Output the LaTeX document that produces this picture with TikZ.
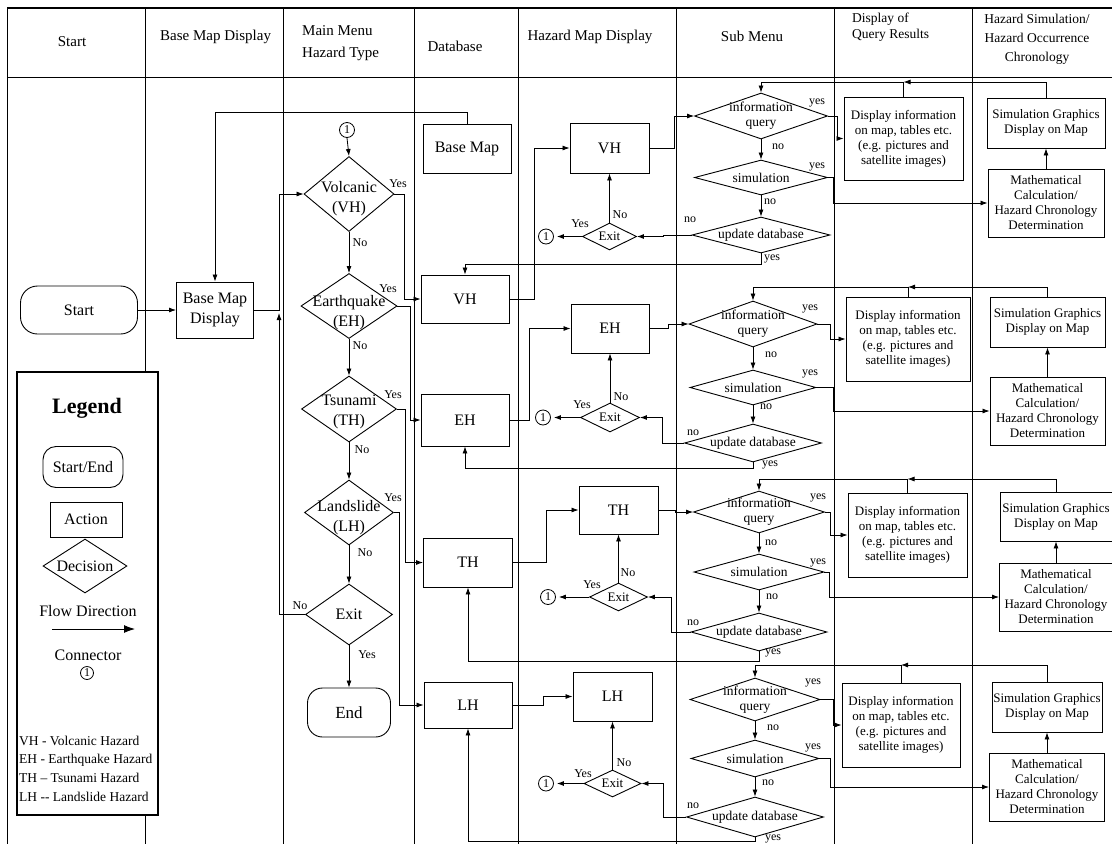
\documentclass[tikz,border=0pt]{standalone}
\usepackage{fontspec}
\setmainfont{Liberation Serif}
\usetikzlibrary{arrows.meta,shapes.geometric,calc}
\begin{document}
\begin{tikzpicture}[x=1pt,y=-1pt,
  arr/.style={line width=0.8pt,-{Latex[length=7pt,width=5pt]}},
  grid/.style={line width=0.8pt},
  box/.style={draw,line width=0.9pt,inner sep=1pt,align=center},
  dia/.style={draw,diamond,line width=0.9pt,inner sep=0pt},
  term/.style={draw,rounded corners=15pt,line width=0.9pt,inner sep=0pt},
  con/.style={draw,circle,line width=0.8pt,inner sep=0pt,minimum size=15pt,font=\fontsize{12}{12}\selectfont},
  lab/.style={inner sep=0pt,font=\fontsize{12}{12}\selectfont},
  f16/.style={font=\fontsize{16}{20}\selectfont},
  f15/.style={font=\fontsize{15}{22}\selectfont},
  f13/.style={font=\fontsize{13}{15}\selectfont},
  f135/.style={font=\fontsize{13.5}{15}\selectfont},
  hdrs/.style={font=\fontsize{13.5}{19}\selectfont}
]
\useasboundingbox (0,0) rectangle (1112,844);
\fill[white] (0,0) rectangle (1112,844);

% ---- swimlane grid ----
\draw[line width=1.6pt] (7,8) -- (1112,8);
\draw[grid] (7,77) -- (1112,77);
\draw[grid] (7,8) -- (7,844);
\foreach \x in {145,283,414,518,676,834,972} \draw[grid] (\x,8) -- (\x,844);

% ---- header ----
\node[f15] (h1) at (72,42) {Start};
\node[f15,anchor=west,inner sep=0pt] (h2) at (160,37) {Base Map Display};
\node[f15,anchor=west,align=left,inner sep=0pt] (h3) at (302,43) {Main Menu\\Hazard Type};
\node[f15] (h4) at (455,46) {Database};
\node[f15] (h5) at (590,37) {Hazard Map Display};
\node[f15] (h6) at (752,36) {Sub Menu};
\node[font=\fontsize{13.5}{16}\selectfont,anchor=west,align=left,inner sep=0pt] (h7) at (852,27) {Display of\\Query Results};
\node[hdrs,align=center,inner sep=0pt] (h8) at (1037,39) {Hazard Simulation/\\Hazard Occurrence\\Chronology};

% ---- start / base map display ----
\node[term,minimum width=117pt,minimum height=48pt,f16,rounded corners=17pt] (start) at (79,310) {Start};
\node[box,minimum width=77pt,minimum height=56pt,f16] (bmd) at (215,310) {Base Map\\Display};

% ---- main menu ----
\node[con] (c0) at (347,130) {1};
\node[dia,minimum width=90pt,minimum height=75pt,label={[f16,align=center,yshift=-5pt]center:{Volcanic\\(VH)}}] (volc) at (349,194) {};
\node[dia,minimum width=96pt,minimum height=65pt,label={[f16,align=center,yshift=-7pt]center:{Earthquake\\(EH)}}] (earth) at (349,306) {};
\node[dia,minimum width=95pt,minimum height=66pt,label={[f16,align=center,yshift=-3pt]center:{Tsunami\\(TH)}}] (tsun) at (349,409) {};
\node[dia,minimum width=89pt,minimum height=65pt,label={[f16,align=center,yshift=-5pt]center:{Landslide\\(LH)}}] (land) at (349,512.5) {};
\node[dia,minimum width=87pt,minimum height=61pt,label={[f16]center:{Exit}}] (exitm) at (349,614.5) {};
\node[term,minimum width=83pt,minimum height=49pt,font=\fontsize{17}{20}\selectfont] (endn) at (349,712.5) {End};

% ---- database ----
\node[box,minimum width=88pt,minimum height=49pt,f16] (bm) at (467,148.5) {Base Map};
\node[box,minimum width=88pt,minimum height=48pt,f16] (dvh) at (465,299) {VH};
\node[box,minimum width=88pt,minimum height=52pt,f16] (deh) at (465,420) {EH};
\node[box,minimum width=89pt,minimum height=49pt,f16] (dth) at (468,562.5) {TH};
\node[box,minimum width=88pt,minimum height=46pt,f16] (dlh) at (468,705) {LH};

% ---- hazard map display ----
\node[box,minimum width=79pt,minimum height=50pt,f16] (mvh) at (609.5,148) {VH};
\node[box,minimum width=78pt,minimum height=49pt,f16] (meh) at (610,328.5) {EH};
\node[box,minimum width=79pt,minimum height=48pt,f16] (mth) at (618.5,510) {TH};
\node[box,minimum width=79pt,minimum height=49pt,f16] (mlh) at (612.5,696.5) {LH};

\node[dia,minimum width=54pt,minimum height=27pt,label={[f13]center:{Exit}}] (xvh) at (609.5,236.5) {};
\node[dia,minimum width=59pt,minimum height=29pt,label={[f13]center:{Exit}}] (xeh) at (610,417.5) {};
\node[dia,minimum width=58pt,minimum height=28pt,label={[f13]center:{Exit}}] (xth) at (618.5,597) {};
\node[dia,minimum width=57pt,minimum height=27pt,label={[f13]center:{Exit}}] (xlh) at (612.5,783.5) {};

\node[con] (cvh) at (546,236.5) {1};
\node[con] (ceh) at (543,417.5) {1};
\node[con] (cth) at (548,597) {1};
\node[con] (clh) at (546,783.5) {1};

% ---- sub menu ----
\node[dia,minimum width=133pt,minimum height=46pt,label={[f135,align=center]center:{information\\query}}] (iqv) at (761,116) {};
\node[dia,minimum width=133pt,minimum height=35pt,label={[f135]center:{simulation}}] (simv) at (761,177.5) {};
\node[dia,minimum width=138pt,minimum height=36pt,label={[f135]center:{update database}}] (udv) at (761,235) {};

\node[dia,minimum width=128pt,minimum height=46pt,label={[f135,align=center]center:{information\\query}}] (iqe) at (753,324) {};
\node[dia,minimum width=126pt,minimum height=35pt,label={[f135]center:{simulation}}] (sime) at (753,387.5) {};
\node[dia,minimum width=137pt,minimum height=38pt,label={[f135]center:{update database}}] (ude) at (753,443) {};

\node[dia,minimum width=131pt,minimum height=42pt,label={[f135,align=center]center:{information\\query}}] (iqt) at (759,512) {};
\node[dia,minimum width=130pt,minimum height=36pt,label={[f135]center:{simulation}}] (simt) at (759,572) {};
\node[dia,minimum width=136pt,minimum height=38pt,label={[f135]center:{update database}}] (udt) at (759,632) {};

\node[dia,minimum width=130pt,minimum height=43pt,label={[f135,align=center]center:{information\\query}}] (iql) at (755,699.5) {};
\node[dia,minimum width=128pt,minimum height=37pt,label={[f135]center:{simulation}}] (siml) at (755,758.5) {};
\node[dia,minimum width=137pt,minimum height=40pt,label={[f135]center:{update database}}] (udl) at (755,817) {};

% ---- display of query results ----
\node[box,minimum width=119pt,minimum height=83pt,f13] (dv) at (903.5,138.5) {Display information\\on map, tables etc.\\(e.g. pictures and\\satellite images)};
\node[box,minimum width=124pt,minimum height=84pt,f13] (de) at (908,339) {Display information\\on map, tables etc.\\(e.g. pictures and\\satellite images)};
\node[box,minimum width=119pt,minimum height=84pt,f13] (dt) at (907.5,535) {Display information\\on map, tables etc.\\(e.g. pictures and\\satellite images)};
\node[box,minimum width=118pt,minimum height=84pt,f13] (dl) at (901,725) {Display information\\on map, tables etc.\\(e.g. pictures and\\satellite images)};

% ---- hazard simulation ----
\node[box,minimum width=118pt,minimum height=50pt,f13] (sgv) at (1046,123) {Simulation Graphics\\Display on Map};
\node[box,minimum width=115pt,minimum height=50pt,f13] (sge) at (1047.5,322) {Simulation Graphics\\Display on Map};
\node[box,minimum width=112pt,minimum height=49pt,f13] (sgt) at (1056,516.5) {Simulation Graphics\\Display on Map};
\node[box,minimum width=110pt,minimum height=50pt,f13] (sgl) at (1047,707) {Simulation Graphics\\Display on Map};

\node[box,minimum width=116pt,minimum height=68pt,f13] (mcv) at (1046,203) {Mathematical\\Calculation/\\Hazard Chronology\\Determination};
\node[box,minimum width=115pt,minimum height=68pt,f13] (mce) at (1047.5,411) {Mathematical\\Calculation/\\Hazard Chronology\\Determination};
\node[box,minimum width=113pt,minimum height=68pt,f13] (mct) at (1056,597) {Mathematical\\Calculation/\\Hazard Chronology\\Determination};
\node[box,minimum width=115pt,minimum height=68pt,f13] (mcl) at (1047,787) {Mathematical\\Calculation/\\Hazard Chronology\\Determination};

% ---- main flow connectors ----
\draw[arr] (start.east) -- (bmd.west);
\draw[arr] (bmd.east) -- (279,310) |- (volc.west);
\draw[arr] (exitm.west) -| (279,313);
\draw[arr] (bm.north) -- ++(0,-11) -| (bmd.north);
\draw[arr] (c0.south) -- (volc.north);
\draw[arr] (volc.south) -- (earth.north);
\draw[arr] (earth.south) -- (tsun.north);
\draw[arr] (tsun.south) -- (land.north);
\draw[arr] (land.south) -- (exitm.north);
\draw[arr] (exitm.south) -- (endn.north);
\draw[arr] (volc.east) -- (404,194) |- (dvh.west);
\draw[arr] (earth.east) -- (410,306) |- (deh.west);
\draw[arr] (tsun.east) -- (405,409) |- (dth.west);
\draw[arr] (land.east) -- (399,512.5) |- (dlh.west);

% ---- VH row ----
\draw[arr] (dvh.east) -- (534,299) |- (mvh.west);
\draw[arr] (mvh.east) -- (674,148) |- (iqv.west);
\draw[arr] (iqv.south) -- (simv.north);
\draw[arr] (simv.south) -- (udv.north);
\draw[arr] (iqv.east) -- (837,116) |- (dv.west);
\draw[arr] (simv.east) -- (833,177.5) |- (mcv.west);
\draw[arr] (udv.west) -- (663,235) |- (xvh.east);
\draw[arr] (udv.south) -- ++(0,11) -| (dvh.north);
\draw[arr] (xvh.north) -- (mvh.south);
\draw[arr,shorten >=3pt] (xvh.west) -- (cvh.east);
\draw[arr] (mcv.north) -- (sgv.south);
\coordinate (tv) at (903.5,82);
\draw[arr] (sgv.north) |- (tv);
\draw[arr] (dv.north) -- (tv) -| (iqv.north);

% ---- EH row ----
\draw[arr] (deh.east) -- (529,420) |- (meh.west);
\draw[arr] (meh.east) -- (668,328.5) |- (iqe.west);
\draw[arr] (iqe.south) -- (sime.north);
\draw[arr] (sime.south) -- (ude.north);
\draw[arr] (iqe.east) -- (830,324) |- (de.west);
\draw[arr] (sime.east) -- (833,387.5) |- (mce.west);
\draw[arr] (ude.west) -- (662,443) |- (xeh.east);
\draw[arr] (ude.south) -- ++(0,6) -| (deh.south);
\draw[arr] (xeh.north) -- (meh.south);
\draw[arr,shorten >=3pt] (xeh.west) -- (ceh.east);
\draw[arr] (mce.north) -- (sge.south);
\coordinate (te) at (908,287);
\draw[arr] (sge.north) |- (te);
\draw[arr] (de.north) -- (te) -| (iqe.north);

% ---- TH row ----
\draw[arr] (dth.east) -- (546,562.5) |- (mth.west);
\draw[arr] (mth.east) -- (675,510) |- (iqt.west);
\draw[arr] (iqt.south) -- (simt.north);
\draw[arr] (simt.south) -- (udt.north);
\draw[arr] (iqt.east) -- (830,512) |- (dt.west);
\draw[arr] (simt.east) -- (829,572) |- (mct.west);
\draw[arr] (udt.west) -- (671,632) |- (xth.east);
\draw[arr] (udt.south) -- ++(0,10) -| (dth.south);
\draw[arr] (xth.north) -- (mth.south);
\draw[arr,shorten >=3pt] (xth.west) -- (cth.east);
\draw[arr] (mct.north) -- (sgt.south);
\coordinate (tt) at (907.5,479);
\draw[arr] (sgt.north) |- (tt);
\draw[arr] (dt.north) -- (tt) -| (iqt.north);

% ---- LH row ----
\draw[arr] (dlh.east) -- (543,705) |- (mlh.west);
\draw[arr] (iql.south) -- (siml.north);
\draw[arr] (siml.south) -- (udl.north);
\draw[arr] (iql.east) -- (833,699.5) |- (dl.west);
\draw[arr] (siml.east) -- (830,758.5) |- (mcl.west);
\draw[arr] (udl.west) -- (663,817) |- (xlh.east);
\draw[arr] (udl.south) -- ++(0,4) -| (dlh.south);
\draw[arr] (xlh.north) -- (mlh.south);
\draw[arr,shorten >=3pt] (xlh.west) -- (clh.east);
\draw[arr] (mcl.north) -- (sgl.south);
\coordinate (tl) at (901,665);
\draw[arr] (sgl.north) |- (tl);
\draw[arr] (dl.north) -- (tl) -| (iql.north);

% ---- yes / no labels ----
\node[lab] (y1) at (398,184) {Yes};
\node[lab] (n1) at (360,243) {No};
\node[lab] (y2) at (388,289) {Yes};
\node[lab] (n2) at (360,346) {No};
\node[lab] (y3) at (393,395) {Yes};
\node[lab] (n3) at (362,450) {No};
\node[lab] (y4) at (393,498) {Yes};
\node[lab] (n4) at (365,553) {No};
\node[lab] (n5) at (300,606) {No};
\node[lab] (y5) at (367,655) {Yes};

\node[lab] (a1) at (817,103) {yes};
\node[lab] (a2) at (778,147) {no};
\node[lab] (a3) at (817,167) {yes};
\node[lab] (a4) at (770,202) {no};
\node[lab] (a5) at (690,220) {no};
\node[lab] (a6) at (772,259) {yes};
\node[lab] (a7) at (620,215) {No};
\node[lab] (a8) at (580,224) {Yes};

\node[lab] (b1) at (810,309) {yes};
\node[lab] (b2) at (771,355) {no};
\node[lab] (b3) at (810,374) {yes};
\node[lab] (b4) at (766,407) {no};
\node[lab] (b5) at (693,433) {no};
\node[lab] (b6) at (770,465) {yes};
\node[lab] (b7) at (621,397) {No};
\node[lab] (b8) at (582,405) {Yes};

\node[lab] (c1) at (818,498) {yes};
\node[lab] (c2) at (771,543) {no};
\node[lab] (c3) at (818,563) {yes};
\node[lab] (c4) at (772,597) {no};
\node[lab] (c5) at (693,623) {no};
\node[lab] (c6) at (773,653) {yes};
\node[lab] (c7) at (628,573) {No};
\node[lab] (c8) at (592,585) {Yes};

\node[lab] (d1) at (813,683) {yes};
\node[lab] (d2) at (773,728) {no};
\node[lab] (d3) at (813,748) {yes};
\node[lab] (d4) at (768,783) {no};
\node[lab] (d5) at (693,806) {no};
\node[lab] (d6) at (773,839) {yes};
\node[lab] (d7) at (624,763) {No};
\node[lab] (d8) at (583,774) {Yes};

% ---- legend ----
\node[draw,line width=2pt,fill=white,minimum width=141pt,minimum height=443pt,inner sep=0pt] (leg) at (87.5,593.5) {};
\node[font=\bfseries\fontsize{22}{22}\selectfont] (legt) at (87,408) {Legend};
\node[term,rounded corners=13pt,minimum width=80pt,minimum height=41pt,f16] (lse) at (83,467) {Start/End};
\node[box,minimum width=72pt,minimum height=35pt,f16] (lac) at (86,519.5) {Action};
\node[dia,minimum width=84pt,minimum height=54pt,label={[f16]center:{Decision}}] (ldec) at (85,566) {};
\node[f16] (lfd) at (88,611) {Flow Direction};
\coordinate (la1) at (52,629);
\coordinate (la2) at (135,629);
\draw[line width=0.9pt,-{Latex[length=11pt,width=8pt]}] (la1) -- (la2);
\node[f16] (lcn) at (88,655) {Connector};
\node[con,minimum size=13pt] (lc1) at (87,673) {1};
\node[font=\fontsize{13.5}{15}\selectfont,anchor=west,inner sep=0pt] (lvh) at (19,741) {VH - Volcanic Hazard};
\node[font=\fontsize{13.5}{15}\selectfont,anchor=west,inner sep=0pt] (leh) at (19,760) {EH - Earthquake Hazard};
\node[font=\fontsize{13.5}{15}\selectfont,anchor=west,inner sep=0pt] (lth) at (19,778) {TH \textendash{} Tsunami Hazard};
\node[font=\fontsize{13.5}{15}\selectfont,anchor=west,inner sep=0pt] (llh) at (19,797) {LH -{}- Landslide Hazard};
\end{tikzpicture}
\end{document}
